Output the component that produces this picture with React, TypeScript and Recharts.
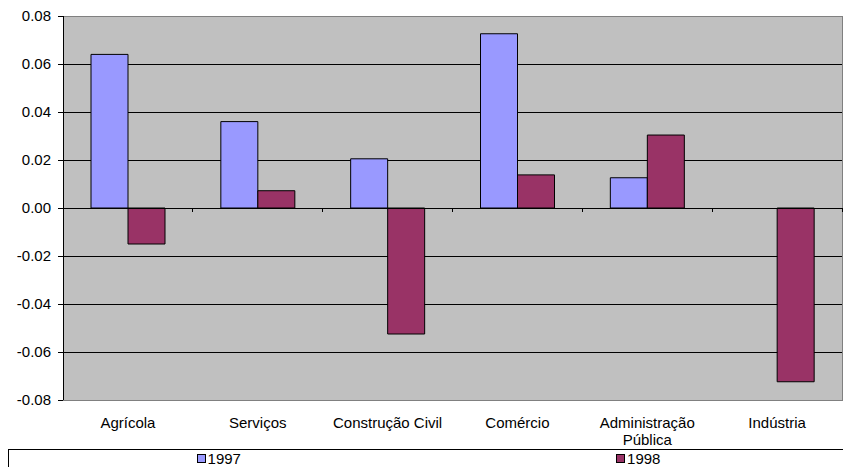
import { BarChart, Bar, XAxis, YAxis, CartesianGrid, ReferenceLine, ReferenceArea, Legend, Text } from "recharts";

const sectors = ["Agrícola", "Serviços", "Construção Civil", "Comércio", "Administração Pública", "Indústria"];
const values1997 = [0.064, 0.036, 0.0205, 0.0726, 0.0126, 0];
const values1998 = [-0.015, 0.0072, -0.0525, 0.0138, 0.0304, -0.0724];
const yTicks = [-0.08, -0.06, -0.04, -0.02, 0, 0.02, 0.04, 0.06, 0.08];
const seriesNames = ["1997", "1998"];
const seriesColors = ["#9999FF", "#993366"];

const FONT = "'Liberation Sans', Arial, sans-serif";
const FONT_SIZE = 15;

const data = sectors.map((sector, i) => ({
  sector,
  y1997: values1997[i],
  y1998: values1998[i],
}));

// category label under the plot, wraps long names onto two lines
function SectorTick(props: any) {
  const { x, y, payload } = props;
  return (
    <Text
      x={x}
      y={y + 17}
      width={112}
      textAnchor="middle"
      verticalAnchor="start"
      lineHeight={17}
      fontSize={FONT_SIZE}
      fontFamily={FONT}
      fill="#000"
    >
      {payload.value}
    </Text>
  );
}

// zero line with small ticks between categories
function ZeroAxis(props: any) {
  const { x1, y1, x2 } = props;
  const step = (x2 - x1) / sectors.length;
  return (
    <g shapeRendering="crispEdges">
      <line x1={x1} y1={y1} x2={x2} y2={y1} stroke="#000" strokeWidth={1} />
      {sectors.map((_, i) => {
        const x = x1 + step * (i + 1);
        return <line key={i} x1={x} x2={x} y1={y1} y2={y1 + 4} stroke="#000" strokeWidth={1} />;
      })}
    </g>
  );
}

function LegendBox() {
  return (
    <div
      style={{
        display: "flex",
        height: 18,
        borderTop: "1px solid #000",
        borderLeft: "1px solid #000",
        boxSizing: "border-box",
        fontFamily: FONT,
        fontSize: FONT_SIZE,
        color: "#000",
      }}
    >
      {seriesNames.map((name, i) => (
        <div
          key={name}
          style={{ flex: 1, display: "flex", justifyContent: "center", alignItems: "center", lineHeight: "16px" }}
        >
          <span
            style={{
              display: "inline-block",
              width: 7,
              height: 7,
              background: seriesColors[i],
              border: "1px solid #000",
              marginRight: 2,
            }}
          />
          {name}
        </div>
      ))}
    </div>
  );
}

export default function App() {
  return (
    <div style={{ position: "relative", width: 843, height: 467, overflow: "hidden", background: "#fff" }}>
      <style>{`body{margin:0}`}</style>
      <BarChart
        width={843}
        height={467}
        data={data}
        margin={{ top: 16, right: 1, bottom: 0, left: 0 }}
        barGap={0}
        barSize={37}
      >
        <CartesianGrid
          horizontal
          vertical={false}
          stroke="#000"
          fill="#C0C0C0"
          strokeOpacity={1}
          shapeRendering="crispEdges"
        />
        <ReferenceArea y1={-0.08} y2={0.08} fill="none" stroke="#808080" strokeWidth={1} shapeRendering="crispEdges" />
        <XAxis
          dataKey="sector"
          interval={0}
          axisLine={false}
          tickLine={false}
          tickSize={0}
          tickMargin={0}
          height={49}
          tick={<SectorTick />}
        />
        <YAxis
          domain={[-0.08, 0.08]}
          ticks={yTicks}
          width={63}
          tickFormatter={(v: number) => v.toFixed(2)}
          tickSize={5}
          tickMargin={7}
          axisLine={{ stroke: "#000", shapeRendering: "crispEdges" }}
          tickLine={{ stroke: "#000", shapeRendering: "crispEdges" }}
          tick={{ fill: "#000", fontSize: FONT_SIZE, fontFamily: FONT }}
          allowDataOverflow
        />
        <Bar dataKey="y1997" name={seriesNames[0]} fill={seriesColors[0]} stroke="#000" strokeWidth={1} isAnimationActive={false} />
        <Bar dataKey="y1998" name={seriesNames[1]} fill={seriesColors[1]} stroke="#000" strokeWidth={1} isAnimationActive={false} />
        <ReferenceLine y={0} shape={<ZeroAxis />} />
        <Legend
          verticalAlign="bottom"
          height={18}
          wrapperStyle={{ left: 8, width: 840 }}
          content={() => <LegendBox />}
        />
      </BarChart>
    </div>
  );
}
